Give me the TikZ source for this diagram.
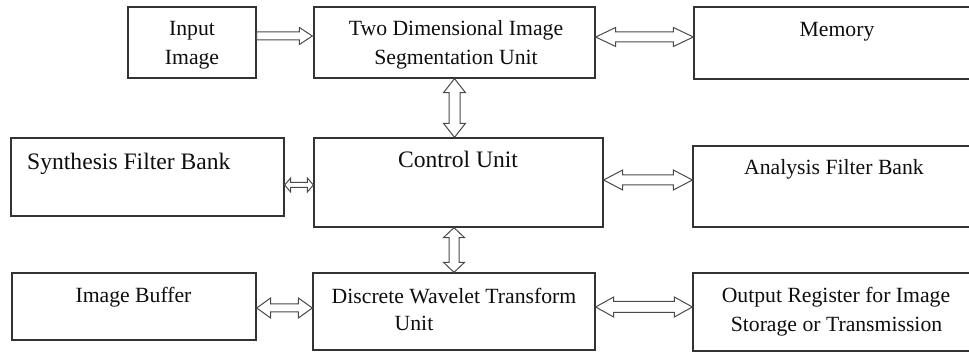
\documentclass[tikz,border=0pt]{standalone}
\usepackage{fontspec}
\setmainfont{Liberation Serif}
\usetikzlibrary{calc}

\definecolor{boxline}{HTML}{333333}
\definecolor{arrowgray}{HTML}{4A4A4A}
\definecolor{textcol}{HTML}{0E0E0E}

% Hollow double-headed arrow between two points, horizontal.
% #1 left end, #2 right end (its y is taken from #1), #3 half shaft width,
% #4 half head width, #5 head length
\newcommand\hdarrow[5]{%
  \path[arrowline] let \p1=(#1), \p2=(#2) in
    (\x1,\y1) -- (\x1+#5,\y1+#4) -- (\x1+#5,\y1+#3) -- (\x2-#5,\y1+#3)
    -- (\x2-#5,\y1+#4) -- (\x2,\y1) -- (\x2-#5,\y1-#4) -- (\x2-#5,\y1-#3)
    -- (\x1+#5,\y1-#3) -- (\x1+#5,\y1-#4) -- cycle;}

% Hollow single-headed arrow, pointing right.
\newcommand\hsarrow[5]{%
  \path[arrowline] let \p1=(#1), \p2=(#2) in
    (\x1,\y1+#3) -- (\x2-#5,\y1+#3) -- (\x2-#5,\y1+#4) -- (\x2,\y1)
    -- (\x2-#5,\y1-#4) -- (\x2-#5,\y1-#3) -- (\x1,\y1-#3) -- cycle;}

% Hollow double-headed arrow, vertical.
% #1 upper end, #2 lower end (its x is taken from #1)
\newcommand\vdarrow[5]{%
  \path[arrowline] let \p1=(#1), \p2=(#2) in
    (\x1,\y1) -- (\x1+#4,\y1-#5) -- (\x1+#3,\y1-#5) -- (\x1+#3,\y2+#5)
    -- (\x1+#4,\y2+#5) -- (\x1,\y2) -- (\x1-#4,\y2+#5) -- (\x1-#3,\y2+#5)
    -- (\x1-#3,\y1-#5) -- (\x1-#4,\y1-#5) -- cycle;}

\tikzset{
  box/.style={draw=boxline, line width=1.3pt, inner sep=0pt, rectangle},
  txt/.style={font=\fontsize{21.7}{28}\selectfont, text=textcol, inner sep=0pt, anchor=base},
  bigtxt/.style={txt, font=\fontsize{23.6}{30}\selectfont},
  arrowline/.style={draw=arrowgray, line width=1pt, fill=white, line join=miter},
}

\begin{document}
\begin{tikzpicture}[x=1pt, y=-1pt]
\useasboundingbox (0,0) rectangle (969,352);
\clip (0,0) rectangle (969,352);

% blocks
\node[box, minimum width=128, minimum height=71] (inp) at (192,42.5) {};
\node[box, minimum width=281, minimum height=71] (seg) at (454.5,42.5) {};
\node[box, minimum width=286, minimum height=72] (mem) at (837,43) {};
\node[box, minimum width=273, minimum height=78] (syn) at (147.5,177) {};
\node[box, minimum width=289, minimum height=89] (ctl) at (458.5,182.5) {};
\node[box, minimum width=287, minimum height=81] (ana) at (836.5,186.5) {};
\node[box, minimum width=244, minimum height=67] (buf) at (134,306.5) {};
\node[box, minimum width=282, minimum height=77] (dwt) at (454,311.5) {};
\node[box, minimum width=287, minimum height=78] (out) at (836.5,312) {};

% block texts
\node[txt] (tinp1) at (192,36) {Input};
\node[txt] (tinp2) at (192,65) {Image};
\node[txt] (tseg1) at (456,36) {Two Dimensional Image};
\node[txt] (tseg2) at (456,65) {Segmentation Unit};
\node[txt] (tmem) at (837,37) {Memory};
\node[bigtxt, anchor=base west] (tsyn) at (27,170) {Synthesis Filter Bank};
\node[bigtxt] (tctl) at (458,168) {Control Unit};
\node[txt] (tana) at (834,175) {Analysis Filter Bank};
\node[txt] (tbuf) at (133.5,303) {Image Buffer};
\node[txt] (tdwt1) at (454,304) {Discrete Wavelet Transform};
\node[txt] (tdwt2) at (414,331) {Unit};
\node[txt] (tout1) at (836,303) {Output Register for Image};
\node[txt] (tout2) at (836.5,332) {Storage or Transmission};

% connectors
\hsarrow{[yshift=6.5pt]inp.east}{[xshift=-1pt]seg.west}{4pt}{8.5pt}{13pt}
\hdarrow{[yshift=5.5pt]seg.east}{mem.west}{5pt}{9.5pt}{20pt}
\vdarrow{seg.south}{seg.south |- ctl.north}{5.5pt}{11pt}{14pt}
\hdarrow{[yshift=-8pt]syn.east}{ctl.west}{2.5pt}{7pt}{6pt}
\hdarrow{[yshift=2.5pt]ctl.east}{ana.west}{5pt}{10pt}{19pt}
\vdarrow{dwt.north |- ctl.south}{dwt.north}{5pt}{10.5pt}{10pt}
\hdarrow{[yshift=-1.5pt]buf.east}{dwt.west}{4pt}{10pt}{14pt}
\hdarrow{[yshift=4.5pt]dwt.east}{out.west}{5.5pt}{10pt}{18pt}
\end{tikzpicture}
\end{document}
